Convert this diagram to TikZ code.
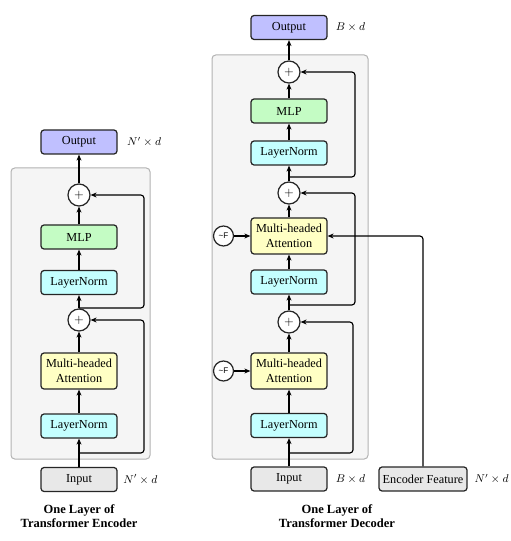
\documentclass[tikz,border=0pt]{standalone}
\usepackage{fontspec}
\setmainfont{Liberation Serif}
\newfontfamily\tagfont{Liberation Sans}
\usetikzlibrary{arrows.meta, positioning}
\tikzset{>={Stealth[length=4.8pt,width=4pt]}}

\definecolor{outblue}{RGB}{192,192,255}
\definecolor{mlpgreen}{RGB}{196,252,196}
\definecolor{lncyan}{RGB}{196,255,255}
\definecolor{attyellow}{RGB}{255,255,196}
\definecolor{ingray}{RGB}{232,232,232}
\definecolor{bggray}{RGB}{245,245,245}

\begin{document}
\begin{tikzpicture}[x=0.8pt,y=-0.8pt,
    block/.style={draw=black!85,line width=1pt,rounded corners=2.5pt,minimum width=60.8pt,minimum height=19.2pt,inner sep=1pt,align=center,font=\fontsize{9.8}{12}\selectfont},
    tall/.style={block,minimum height=28.8pt},
    addnode/.style={circle,draw=black!85,line width=1pt,fill=white,minimum size=17.6pt,inner sep=0pt,font=\normalsize},
    tagnode/.style={circle,draw=black!85,line width=1pt,fill=white,minimum size=16pt,inner sep=0pt,font=\tagfont\fontsize{6.5}{6.5}\selectfont},
    dimlabel/.style={font=\fontsize{9}{11}\selectfont},
    layerbox/.style={draw=black!30,fill=bggray,line width=0.8pt,rounded corners=3pt},
    link/.style={->,line width=0.9pt,rounded corners=2.5pt},
    title/.style={align=center,font=\bfseries\fontsize{10}{11.5}\selectfont}]
\useasboundingbox (0,0) rectangle (510,541);

% encoder
\draw[layerbox] (11,168) rectangle (150,459);
\node[block,fill=outblue] (enc_out) at (79,142) {Output};
\node[addnode] (enc_add2) at (79,195) {$+$};
\node[block,fill=mlpgreen] (enc_mlp) at (79,237) {MLP};
\node[block,fill=lncyan] (enc_ln2) at (79,282.5) {LayerNorm};
\node[addnode] (enc_add1) at (79,320) {$+$};
\node[tall,fill=attyellow] (enc_att) at (79,371) {Multi-headed\\Attention};
\node[block,fill=lncyan] (enc_ln1) at (79,426) {LayerNorm};
\node[block,fill=ingray] (enc_in) at (79,479.5) {Input};
\node[dimlabel,right=4pt of enc_out] {$N' \times d$};
\node[dimlabel,right=1pt of enc_in] {$N' \times d$};
\node[title] at (79,516) {One Layer of\\Transformer Encoder};

\draw[link] (enc_in) -- (enc_ln1);
\draw[link] (enc_ln1) -- (enc_att);
\draw[link] (enc_att) -- (enc_add1);
\draw[link] (enc_add1) -- (enc_ln2);
\draw[link] (enc_ln2) -- (enc_mlp);
\draw[link] (enc_mlp) -- (enc_add2);
\draw[link] (enc_add2) -- (enc_out);
\coordinate (enc_s1) at (79,453);
\coordinate (enc_s2) at (79,308);
\draw[link] (enc_s1) -- ++(65,0) |- (enc_add1);
\draw[link] (enc_s2) -- ++(65,0) |- (enc_add2);

% decoder
\draw[layerbox] (212,55) rectangle (368,459);
\node[block,fill=outblue] (dec_out) at (289,27.5) {Output};
\node[addnode] (dec_add3) at (289,72) {$+$};
\node[block,fill=mlpgreen] (dec_mlp) at (289,111) {MLP};
\node[block,fill=lncyan] (dec_ln3) at (289,153) {LayerNorm};
\node[addnode] (dec_add2) at (289,193) {$+$};
\node[tall,fill=attyellow] (dec_att2) at (289,236) {Multi-headed\\Attention};
\node[block,fill=lncyan] (dec_ln2) at (289,282) {LayerNorm};
\node[addnode] (dec_add1) at (289,322) {$+$};
\node[tall,fill=attyellow] (dec_att1) at (289,371) {Multi-headed\\Attention};
\node[block,fill=lncyan] (dec_ln1) at (289,425.5) {LayerNorm};
\node[block,fill=ingray] (dec_in) at (289,479) {Input};
\node[tagnode,left=13pt of dec_att2] (dec_f2) {\textasciitilde F};
\node[tagnode,left=13pt of dec_att1] (dec_f1) {\textasciitilde F};
\node[block,fill=ingray,minimum width=70.4pt] (enc_feat) at (423,479) {Encoder Feature};
\node[dimlabel,right=3pt of dec_out] {$B \times d$};
\node[dimlabel,right=3pt of dec_in] {$B \times d$};
\node[dimlabel,right=2pt of enc_feat] {$N' \times d$};
\node[title] at (337,516) {One Layer of\\Transformer Decoder};

\draw[link] (dec_in) -- (dec_ln1);
\draw[link] (dec_ln1) -- (dec_att1);
\draw[link] (dec_att1) -- (dec_add1);
\draw[link] (dec_add1) -- (dec_ln2);
\draw[link] (dec_ln2) -- (dec_att2);
\draw[link] (dec_att2) -- (dec_add2);
\draw[link] (dec_add2) -- (dec_ln3);
\draw[link] (dec_ln3) -- (dec_mlp);
\draw[link] (dec_mlp) -- (dec_add3);
\draw[link] (dec_add3) -- (dec_out);
\draw[link] (dec_f1) -- (dec_att1);
\draw[link] (dec_f2) -- (dec_att2);
\draw[link] (enc_feat) |- (dec_att2);
\coordinate (dec_s1) at (289,453);
\coordinate (dec_s2) at (289,305);
\coordinate (dec_s3) at (289,177);
\draw[link] (dec_s1) -- ++(64,0) |- (dec_add1);
\draw[link] (dec_s2) -- ++(66,0) |- (dec_add2);
\draw[link] (dec_s3) -- ++(66,0) |- (dec_add3);
\end{tikzpicture}
\end{document}
